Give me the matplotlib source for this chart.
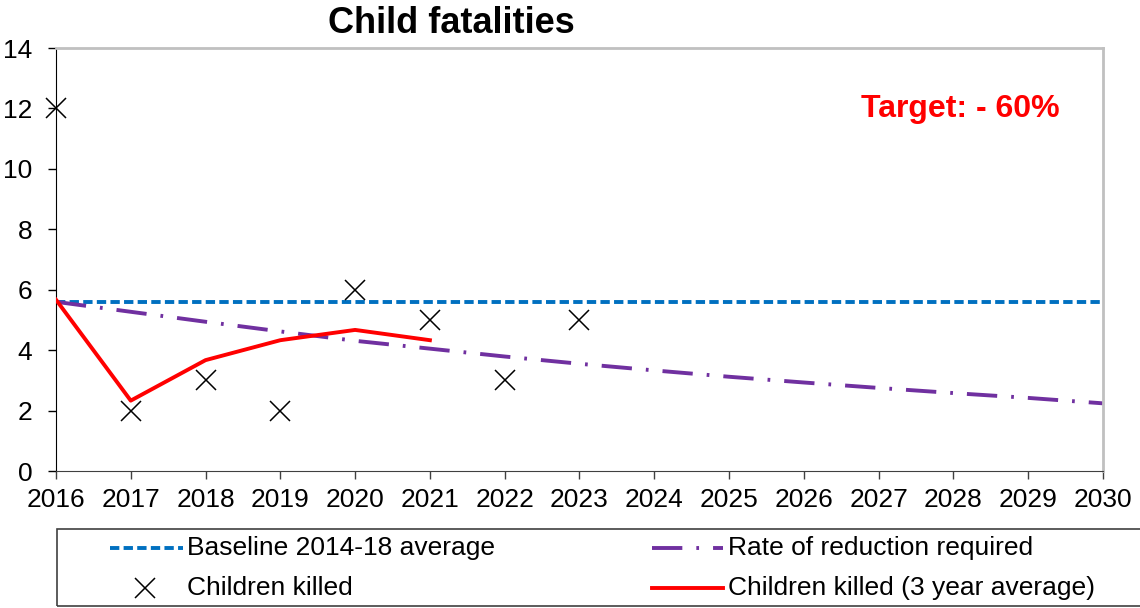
import numpy as np
import matplotlib
matplotlib.use("Agg")
import matplotlib.pyplot as plt
from matplotlib.lines import Line2D
from matplotlib.patches import Rectangle

plt.rcParams['font.family'] = ['Liberation Sans', 'DejaVu Sans']

# data
years = list(range(2016, 2031))
baseline_value = 5.6
baseline = [baseline_value] * len(years)
reduction = [5.6, 5.27, 4.94, 4.62, 4.31, 4.05, 3.79, 3.55, 3.33, 3.12,
             2.93, 2.75, 2.58, 2.42, 2.24]
killed_years = [2016, 2017, 2018, 2019, 2020, 2021, 2022, 2023]
killed = [12, 2, 3, 2, 6, 5, 3, 5]
avg_years = [2016, 2017, 2018, 2019, 2020, 2021]
avg3 = [5.67, 2.33, 3.67, 4.33, 4.67, 4.33]

blue = '#0070C0'
purple = '#7030A0'
red = '#FF0000'

fig = plt.figure(figsize=(11.4, 6.08), dpi=100)
ax = fig.add_axes([0.0491, 0.2253, 0.9184, 0.6957])

base_line, = ax.plot(years, baseline, color=blue, lw=2.8, dashes=(2.4, 1.1),
                     dash_capstyle='butt', zorder=2)
red_line, = ax.plot(years, reduction, color=purple, lw=2.8,
                    dashes=(7.8, 3.6, 0.7, 3.6), dash_capstyle='butt', zorder=2)
ax.plot(killed_years, killed, ls='none', marker='x', ms=15, mew=1.1,
        color='black', zorder=3, clip_on=False)
ax.plot(avg_years, avg3, color=red, lw=2.8, zorder=4)

ax.set_xlim(2016, 2030)
ax.set_ylim(0, 14)
ax.set_xticks(years)
ax.set_yticks(range(0, 15, 2))
ax.tick_params(axis='x', direction='out', length=5.5, width=1, labelsize=19,
               pad=7, colors='#404040', labelcolor='black')
ax.tick_params(axis='y', direction='out', length=6, width=1, labelsize=19,
               pad=11)
for s in ['top', 'right']:
    ax.spines[s].set_color('#C0C0C0')
    ax.spines[s].set_linewidth(2)
ax.spines['left'].set_color('black')
ax.spines['bottom'].set_color('#404040')

ax.text(0.769, 0.837, 'Target: - 60%', transform=ax.transAxes, color=red,
        fontsize=23, fontweight='bold', ha='left', va='baseline')

fig.text(0.3956, 0.9457, 'Child fatalities', fontsize=26, fontweight='bold',
         ha='center', va='baseline')

# legend box spanning to the right edge
fig.add_artist(Rectangle((0.05, 0.0033), 1.0, 0.1267, transform=fig.transFigure,
                         fill=False, ec='#404040', lw=1.2, clip_on=False))
r1, r2 = 0.0987, 0.0329
fig.add_artist(Line2D([0.0965, 0.1605], [r1, r1], transform=fig.transFigure,
                      color=blue, lw=2.8, dashes=(2.4, 1.1), dash_capstyle='butt'))
fig.add_artist(Line2D([0.572, 0.634], [r1, r1], transform=fig.transFigure,
                      color=purple, lw=2.8, dashes=(7.8, 3.6, 0.7, 3.6),
                      dash_capstyle='butt'))
fig.add_artist(Line2D([0.127], [r2], transform=fig.transFigure, ls='none',
                      marker='x', ms=15, mew=1.1, color='black'))
fig.add_artist(Line2D([0.572, 0.634], [r2, r2], transform=fig.transFigure,
                      color=red, lw=2.8))
fig.text(0.164, r1, 'Baseline 2014-18 average', fontsize=19, va='center')
fig.text(0.6386, r1, 'Rate of reduction required', fontsize=19, va='center')
fig.text(0.164, r2, 'Children killed', fontsize=19, va='center')
fig.text(0.6386, r2, 'Children killed (3 year average)', fontsize=19, va='center')

fig.savefig('out.png', dpi=100)
